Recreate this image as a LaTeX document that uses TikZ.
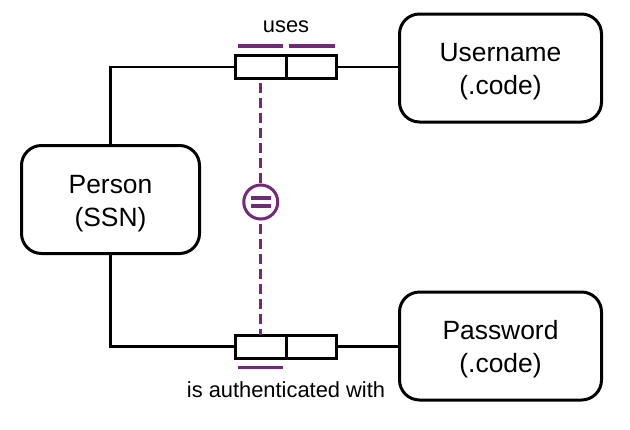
\documentclass[tikz,border=0pt]{standalone}
\usepackage{fontspec}
\setmainfont{Liberation Sans}
\usetikzlibrary{positioning}

\definecolor{ormpurple}{RGB}{115,40,120}

\newcommand{\toppad}{\rule{0pt}{19.5pt}}

\begin{document}
\begin{tikzpicture}[
  x=0.75pt, y=-0.75pt,
  % Rounded boxes for entity types
  entity/.style={rectangle, rounded corners=15pt, draw, line width=2.25pt,
    minimum width=151.5pt, minimum height=81pt, align=center,
    font=\fontsize{19.8}{24.75}\selectfont, inner sep=0pt, outer sep=0pt},
  % Role boxes of a fact type
  role/.style={rectangle, draw, line width=2.25pt, minimum width=37.9pt,
    minimum height=17.25pt, inner sep=0pt, outer sep=0pt},
  % Reading labels
  reading/.style={font=\fontsize{16.4}{20}\selectfont, inner sep=0pt, anchor=base},
  link/.style={line width=2.2pt},
  uniq/.style={draw=ormpurple, line width=2.7pt},
  subset/.style={draw=ormpurple, line width=2.6pt, dash pattern=on 7.5pt off 3.75pt, dash phase=-3.5pt},
  eqcirc/.style={circle, draw=ormpurple, line width=2.25pt, minimum size=25.5pt,
    inner sep=0pt, outer sep=0pt},
]
  \useasboundingbox (0,0) rectangle (630,429);

  % === Entity types ===
  \node[entity, minimum width=133.5pt] (person) at (110.5,199.5) {\toppad Person\\(SSN)};
  \node[entity] (username) at (500.5,68) {\toppad Username\\(.code)};
  \node[entity] (password) at (500.5,346) {\toppad Password\\(.code)};

  % === Fact type: uses ===
  \node[role] (uses1) at (260.75,67) {};
  \node[role, right=0pt of uses1] (uses2) {};
  \node[reading] (usesLbl) at (286,32) {uses};

  % === Fact type: is authenticated with ===
  \node[role] (auth1) at (260.75,346.5) {};
  \node[role, right=0pt of auth1] (auth2) {};
  \node[reading] (authLbl) at (286,397) {is authenticated with};

  % === Equality constraint ===
  \node[eqcirc] (eq) at (260.75,202) {};

  % === Connectors ===
  \draw[link] (person.north) |- (uses1.west);
  \draw[link] (uses2.east) -- (uses2.east -| username.west);
  \draw[link] (person.south) |- (auth1.west);
  \draw[link] (auth2.east) -- (auth2.east -| password.west);

  % === Uniqueness bars ===
  \draw[uniq] ([xshift=2pt,yshift=7.1pt]uses1.north west) -- ([xshift=-2pt,yshift=7.1pt]uses1.north east);
  \draw[uniq] ([xshift=2pt,yshift=7.1pt]uses2.north west) -- ([xshift=-1.5pt,yshift=7.1pt]uses2.north east);
  \draw[uniq] ([xshift=2pt,yshift=-7.1pt]auth1.south west) -- ([xshift=-2pt,yshift=-7.1pt]auth1.south east);

  % === Equality links ===
  \draw[subset] (uses1.south) -- (eq.north);
  \draw[subset] (eq.south) -- (auth1.north);
  \draw[uniq, line width=2.4pt] ([xshift=-7.5pt,yshift=3pt]eq.center) -- ([xshift=7.5pt,yshift=3pt]eq.center);
  \draw[uniq, line width=2.4pt] ([xshift=-7.5pt,yshift=-3pt]eq.center) -- ([xshift=7.5pt,yshift=-3pt]eq.center);
\end{tikzpicture}
\end{document}
